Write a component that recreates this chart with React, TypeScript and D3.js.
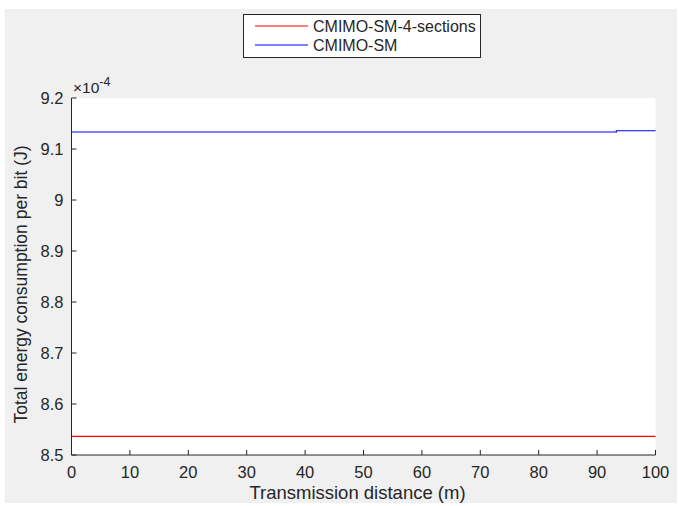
import React from "react";
import * as d3 from "d3";

const xTicks = [0, 10, 20, 30, 40, 50, 60, 70, 80, 90, 100];
const yTicks = [8.5, 8.6, 8.7, 8.8, 8.9, 9.0, 9.1, 9.2];
const yTickLabels = ["8.5", "8.6", "8.7", "8.8", "8.9", "9", "9.1", "9.2"];
const redX = [0, 100];
const redY = [8.5365, 8.5365];
const blueX = [0, 93.3, 93.3, 100];
const blueY = [9.1333, 9.1333, 9.1358, 9.1358];
const seriesNames = ["CMIMO-SM-4-sections", "CMIMO-SM"];
const seriesColors = ["#ff0000", "#0000ff"];

export default function App() {
  const W = 678, H = 506;
  const left = 71.5, right = 655.5, top = 98, bottom = 455;
  const x = d3.scaleLinear().domain([0, 100]).range([left, right]);
  const y = d3.scaleLinear().domain([8.5, 9.2]).range([bottom, top]);
  const line = (xs: number[], ys: number[]) =>
    d3.line<number>().x((_, i) => x(xs[i])).y((_, i) => y(ys[i]))(xs.map((_, i) => i)) || "";
  const font = "'Liberation Sans', Arial, sans-serif";
  const txt = "#262626";
  return (
    <svg width={W} height={H} style={{ position: "absolute", left: 0, top: 0 }} fontFamily={font}>
      <rect x={0} y={0} width={W} height={H} fill="#ffffff" />
      <rect x={5} y={9} width={672} height={494} fill="#f0f0f0" />
      <rect x={left} y={top} width={right - left} height={bottom - top} fill="#ffffff" />
      <path d={line(redX, redY)} stroke={seriesColors[0]} strokeWidth={1.2} fill="none" />
      <path d={line(blueX, blueY)} stroke={seriesColors[1]} strokeWidth={1.2} fill="none" />
      {/* axes */}
      <line x1={left} x2={left} y1={top} y2={bottom} stroke={txt} strokeWidth={1} />
      <line x1={left} x2={right} y1={bottom} y2={bottom} stroke={txt} strokeWidth={1} />
      {xTicks.map((t) => (
        <g key={"x" + t}>
          <line x1={x(t)} x2={x(t)} y1={bottom} y2={bottom - 5} stroke={txt} />
          <text x={x(t)} y={478} textAnchor="middle" fontSize={16.5} fill={txt}>{t}</text>
        </g>
      ))}
      {yTicks.map((t, i) => (
        <g key={"y" + t}>
          <line x1={left} x2={left + 5} y1={y(t)} y2={y(t)} stroke={txt} />
          <text x={63.5} y={y(t) + 6} textAnchor="end" fontSize={16.5} fill={txt}>{yTickLabels[i]}</text>
        </g>
      ))}
      <text x={73} y={93} fontSize={15.5} fill={txt}>
        ×10<tspan dy={-7} fontSize={12.5}>-4</tspan>
      </text>
      <text x={(left + right) / 2 - 6} y={499} textAnchor="middle" fontSize={18.5} fill={txt}>Transmission distance (m)</text>
      <text transform={`translate(27, ${(top + bottom) / 2 + 8}) rotate(-90)`} textAnchor="middle" fontSize={17.5} fill={txt}>
        Total energy consumption per bit (J)
      </text>
      {/* legend */}
      <rect x={243.5} y={14.5} width={237} height={43} fill="#ffffff" stroke={txt} strokeWidth={1} />
      {seriesNames.map((n, i) => (
        <g key={n}>
          <line x1={255} x2={308} y1={26 + i * 19} y2={26 + i * 19} stroke={seriesColors[i]} strokeWidth={1.2} />
          <text x={313} y={32 + i * 19} fontSize={16} fill={txt}>{n}</text>
        </g>
      ))}
    </svg>
  );
}
